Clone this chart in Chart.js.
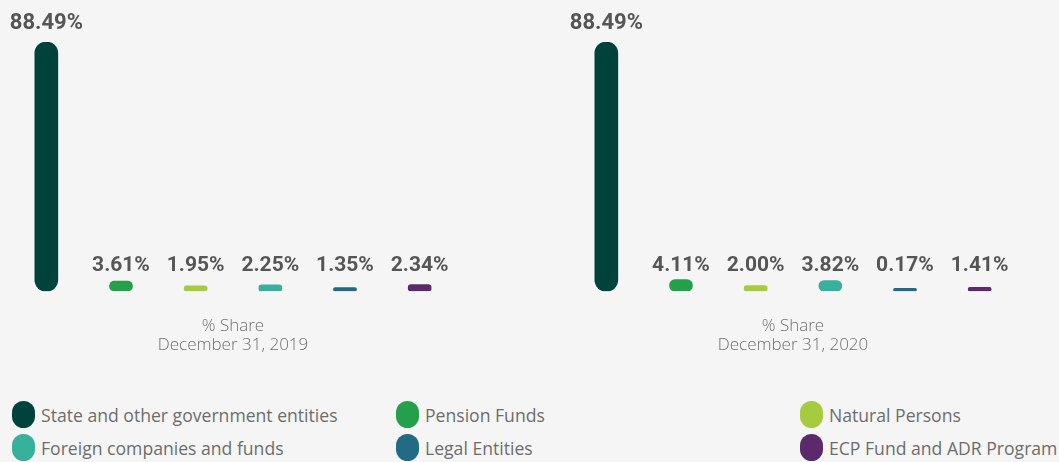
<!DOCTYPE html>
<html>
<head>
<meta charset="utf-8">
<title>Shareholder structure</title>
<script src="https://cdn.jsdelivr.net/npm/chart.js@4/dist/chart.umd.min.js"></script>
<style>
  html, body { margin: 0; padding: 0; background: #f5f5f5; }
  #page { position: relative; width: 1059px; height: 462px; overflow: hidden; background: #f5f5f5; }
  .panel { position: absolute; top: 0; width: 466px; height: 354px; }
  .legend-item { position: absolute; display: flex; align-items: center; height: 27px;
    font-family: "Open Sans", sans-serif; font-size: 17.6px; color: #6d6d6d; white-space: nowrap; }
  .legend-swatch { width: 23px; height: 27px; border-radius: 12px; margin-right: 6px; flex: none; }
</style>
</head>
<body>
<div id="page">
  <div class="panel" style="left:0px"><canvas id="chart2019"></canvas></div>
  <div class="panel" style="left:560px"><canvas id="chart2020"></canvas></div>
  <div id="legend"></div>
</div>
<script>
// Shareholder groups, in bar order
const categories = [
  'State and other government entities',
  'Pension Funds',
  'Natural Persons',
  'Foreign companies and funds',
  'Legal Entities',
  'ECP Fund and ADR Program'
];
const colors = ['#00433c', '#25a04a', '#a6cb3f', '#37b09c', '#216b84', '#5b2a6a'];

// % share at each reporting date
const periods = ['December 31, 2019', 'December 31, 2020'];
const share2019 = [88.49, 3.61, 1.95, 2.25, 1.35, 2.34];
const share2020 = [88.49, 4.11, 2.00, 3.82, 0.17, 1.41];
const axisCaption = '% Share';

// Percentage labels above each bar; short bars share one label row
const valueLabels = {
  id: 'valueLabels',
  afterDatasetsDraw(chart) {
    const ctx = chart.ctx;
    const meta = chart.getDatasetMeta(0);
    const data = chart.data.datasets[0].data;
    const base = chart.scales.y.getPixelForValue(0);
    ctx.save();
    ctx.fillStyle = '#555555';
    ctx.textAlign = 'center';
    ctx.textBaseline = 'alphabetic';
    meta.data.forEach((bar, i) => {
      const short = (base - bar.y) < bar.width;
      ctx.font = (short ? '700 21px' : '700 22px') + ' Roboto, sans-serif';
      const y = short ? base - 20 : bar.y - 13;
      ctx.fillText(data[i].toFixed(2) + '%', bar.x, y);
    });
    ctx.restore();
  }
};

function makeChart(canvasId, values, period) {
  return new Chart(document.getElementById(canvasId), {
    type: 'bar',
    data: {
      labels: categories,
      datasets: [{
        data: values,
        backgroundColor: colors,
        barThickness: 23,
        borderRadius: 12,
        borderSkipped: false,
        minBarLength: 3
      }]
    },
    options: {
      responsive: true,
      maintainAspectRatio: false,
      animation: false,
      layout: { padding: { top: 42, left: 9, right: 9, bottom: 0 } },
      plugins: { legend: { display: false }, tooltip: { enabled: false } },
      scales: {
        x: {
          grid: { display: false },
          border: { display: false },
          ticks: { display: false },
          title: {
            display: true,
            text: [axisCaption, period],
            color: '#707070',
            font: { family: '"Open Sans", sans-serif', size: 17, weight: 300, lineHeight: 1.08 },
            padding: { top: 18, bottom: 0 }
          }
        },
        y: {
          display: false,
          min: 0,
          max: Math.max(...share2019, ...share2020)
        }
      }
    },
    plugins: [valueLabels]
  });
}

makeChart('chart2019', share2019, periods[0]);
makeChart('chart2020', share2020, periods[1]);

// Legend: three columns, two rows
const legendCols = [12, 396, 800];
const legendRows = [401, 434];
const legend = document.getElementById('legend');
categories.forEach((name, i) => {
  const item = document.createElement('div');
  item.className = 'legend-item';
  item.style.left = legendCols[i % 3] + 'px';
  item.style.top = legendRows[Math.floor(i / 3)] + 'px';
  const sw = document.createElement('span');
  sw.className = 'legend-swatch';
  sw.style.background = colors[i];
  const label = document.createElement('span');
  label.textContent = name;
  item.appendChild(sw);
  item.appendChild(label);
  legend.appendChild(item);
});
</script>
</body>
</html>
